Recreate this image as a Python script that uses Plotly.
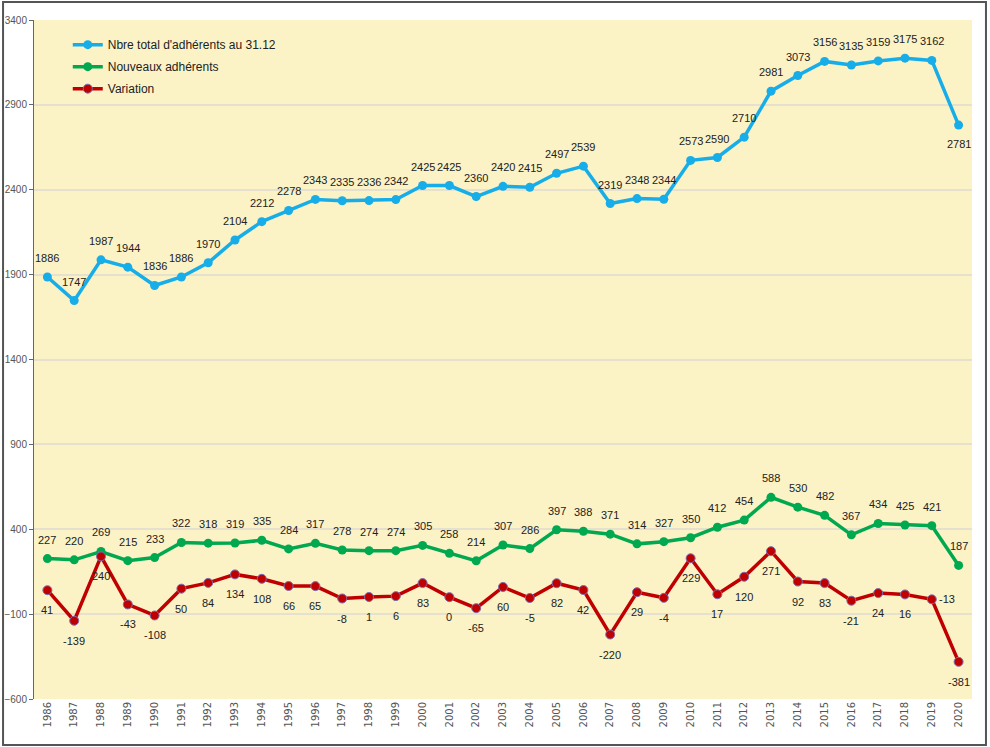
import plotly.graph_objects as go

years = [str(y) for y in range(1986, 2021)]
total = [1886, 1747, 1987, 1944, 1836, 1886, 1970, 2104, 2212, 2278, 2343, 2335, 2336, 2342,
         2425, 2425, 2360, 2420, 2415, 2497, 2539, 2319, 2348, 2344, 2573, 2590, 2710, 2981,
         3073, 3156, 3135, 3159, 3175, 3162, 2781]
nouveaux = [227, 220, 269, 215, 233, 322, 318, 319, 335, 284, 317, 278, 274, 274, 305, 258,
            214, 307, 286, 397, 388, 371, 314, 327, 350, 412, 454, 588, 530, 482, 367, 434,
            425, 421, 187]
variation = [41, -139, 240, -43, -108, 50, 84, 134, 108, 66, 65, -8, 1, 6, 83, 0, -65, 60, -5,
             82, 42, -220, 29, -4, 229, 17, 120, 271, 92, 83, -21, 24, 16, -13, -381]
names = ["Nbre total d'adhérents au 31.12", "Nouveaux adhérents", "Variation"]
y_ticks = [-600, -100, 400, 900, 1400, 1900, 2400, 2900, 3400]

BLUE = "#17ADE8"
GREEN = "#00A850"
RED = "#C00000"
NARROW = "Liberation Sans Narrow, Liberation Sans, sans-serif"
LABEL_FONT = dict(family=NARROW, size=11, color="#222")

fig = go.Figure()
fig.add_trace(go.Scatter(x=years, y=total, name=names[0], mode="lines+markers", legendgroup="a",
                         line=dict(color=BLUE, width=3.5), marker=dict(size=9, color=BLUE)))
fig.add_trace(go.Scatter(x=years, y=nouveaux, name=names[1], mode="lines+markers", legendgroup="b",
                         line=dict(color=GREEN, width=3.5), marker=dict(size=9, color=GREEN)))
fig.add_trace(go.Scatter(x=years, y=variation, name=names[2], mode="lines+markers", legendgroup="c",
                         line=dict(color=RED, width=3.5),
                         marker=dict(size=9, color=RED, line=dict(color="#7a6fb0", width=1))))

annotations = []
for i, yr in enumerate(years):
    ys = -19 if yr == "2020" else 19
    annotations.append(dict(x=i, y=total[i], text=str(total[i]), showarrow=False,
                            yshift=ys, font=LABEL_FONT))
    annotations.append(dict(x=i, y=nouveaux[i], text=str(nouveaux[i]), showarrow=False,
                            yshift=19, font=LABEL_FONT))
    if yr == "2019":
        annotations.append(dict(x=i, y=variation[i], text=str(variation[i]), showarrow=False,
                                xshift=15, yshift=0, font=LABEL_FONT))
    else:
        annotations.append(dict(x=i, y=variation[i], text=str(variation[i]), showarrow=False,
                                yshift=-20, font=LABEL_FONT))

fig.update_layout(
    width=990, height=747,
    margin=dict(l=34, r=18, t=20, b=48, autoexpand=False),
    paper_bgcolor="white",
    plot_bgcolor="#FBF2C6",
    annotations=annotations,
    showlegend=True,
    legend=dict(x=0.036, y=0.985, xanchor="left", yanchor="top", bgcolor="rgba(0,0,0,0)",
                font=dict(family=NARROW, size=12, color="#222"),
                itemwidth=30, tracegroupgap=3),
    shapes=[dict(type="rect", xref="paper", yref="paper", x0=-0.033, x1=1.0149,
                 y0=-0.0677, y1=1.0265, line=dict(color="#555", width=2), layer="below")],
)
fig.update_xaxes(type="category", range=[-0.5, 34.5], tickangle=-90, showgrid=False,
                 showline=False, ticks="", automargin=False,
                 tickfont=dict(family="DejaVu Sans, sans-serif", size=10, color="#555"))
fig.update_yaxes(range=[-600, 3400], tickvals=y_ticks, showgrid=True, gridcolor="#E6E1CF",
                 gridwidth=1.5, zeroline=False, showline=True, linecolor="#666", linewidth=1,
                 ticks="outside", ticklen=4, tickcolor="#666", automargin=False,
                 tickfont=dict(family=NARROW, size=10, color="#555"))

fig.write_html("out.html", config={"displayModeBar": False},
               post_script="document.body.style.margin='0';")
